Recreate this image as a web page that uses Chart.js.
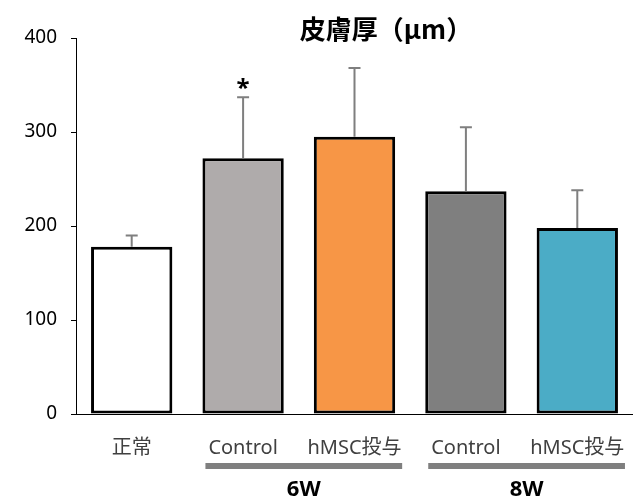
<!DOCTYPE html>
<html>
<head>
<meta charset="utf-8">
<script src="https://cdn.jsdelivr.net/npm/chart.js@4/dist/chart.umd.min.js"></script>
<style>
  html, body { margin: 0; padding: 0; background: #fff; }
  #wrap { width: 633px; height: 503px; position: relative; }
</style>
</head>
<body>
<div id="wrap"><canvas id="skinChart"></canvas></div>
<script>
const categories = ['正常', 'Control', 'hMSC投与', 'Control', 'hMSC投与'];
const means = [178, 272, 295, 237, 198];
const errors = [12, 65, 73, 68, 40];
const barColors = ['#ffffff', '#afabab', '#f79646', '#7f7f7f', '#4bacc6'];
const yTicks = [0, 100, 200, 300, 400];
const groupLabels = ['6W', '8W'];
const groupRanges = [[1, 2], [3, 4]];
const markedBars = [1]; // asterisk

const FONT = "'Noto Sans', 'Noto Sans CJK JP', sans-serif";

const errorBars = {
    id: 'errorBars',
    afterDatasetsDraw(chart) {
        const { ctx, scales: { y } } = chart;
        const bars = chart.getDatasetMeta(0).data;
        ctx.save();
        ctx.strokeStyle = '#7f7f7f';
        ctx.lineWidth = 2;
        bars.forEach((bar, i) => {
            const top = y.getPixelForValue(means[i] + errors[i]);
            const base = y.getPixelForValue(means[i]);
            ctx.beginPath();
            ctx.moveTo(bar.x, base);
            ctx.lineTo(bar.x, top);
            ctx.moveTo(bar.x - 6, top);
            ctx.lineTo(bar.x + 6, top);
            ctx.stroke();
            if (markedBars.includes(i)) {
                ctx.fillStyle = '#000';
                ctx.font = "bold 24px " + FONT;
                ctx.textAlign = 'center';
                ctx.textBaseline = 'middle';
                ctx.fillText('*', bar.x, top - 8);
            }
        });
        ctx.restore();
    }
};

const extras = {
    id: 'extras',
    afterDraw(chart) {
        const { ctx } = chart;
        const bars = chart.getDatasetMeta(0).data;
        ctx.save();
        // title
        ctx.fillStyle = '#000';
        ctx.font = "bold 26px 'Noto Sans CJK JP', sans-serif";
        ctx.textAlign = 'center';
        ctx.textBaseline = 'middle';
        ctx.fillText('皮膚厚（μm）', 386, 29);
        // group bars under labels
        groupRanges.forEach((r, g) => {
            const a = bars[r[0]], b = bars[r[1]];
            const x1 = a.x - a.width / 2 + 3;
            const x2 = b.x + b.width / 2 + 7;
            ctx.fillStyle = '#7f7f7f';
            ctx.fillRect(x1, 463, x2 - x1, 6);
            ctx.fillStyle = '#000';
            ctx.font = "bold 22px " + FONT;
            ctx.fillText(groupLabels[g], (x1 + x2) / 2, 490);
        });
        ctx.restore();
    }
};

new Chart(document.getElementById('skinChart'), {
    type: 'bar',
    data: {
        labels: categories,
        datasets: [{
            data: means,
            backgroundColor: barColors,
            borderColor: '#000',
            borderWidth: 3,
            borderSkipped: false,
            barPercentage: 0.73,
            categoryPercentage: 1
        }]
    },
    options: {
        responsive: true,
        maintainAspectRatio: false,
        animation: false,
        layout: { padding: { top: 38, right: 0, bottom: 0, left: 0 } },
        plugins: {
            legend: { display: false },
            tooltip: { enabled: false }
        },
        scales: {
            y: {
                min: 0,
                max: 400,
                afterBuildTicks: (axis) => { axis.ticks = yTicks.map(v => ({ value: v })); },
                afterFit: (axis) => { axis.width = 76; axis.paddingTop = 0; axis.paddingBottom = 0; },
                grid: { display: true, drawOnChartArea: false, tickLength: 5, color: '#000' },
                border: { color: '#000', width: 1 },
                ticks: { color: '#000', font: { size: 19, family: FONT }, padding: 14 }
            },
            x: {
                afterFit: (axis) => { axis.height = 89; axis.paddingLeft = 0; axis.paddingRight = 0; },
                grid: { display: false },
                border: { color: '#000', width: 1 },
                ticks: { color: '#404040', font: { size: 20, family: FONT }, padding: 14, maxRotation: 0 }
            }
        }
    },
    plugins: [errorBars, extras]
});
</script>
</body>
</html>
